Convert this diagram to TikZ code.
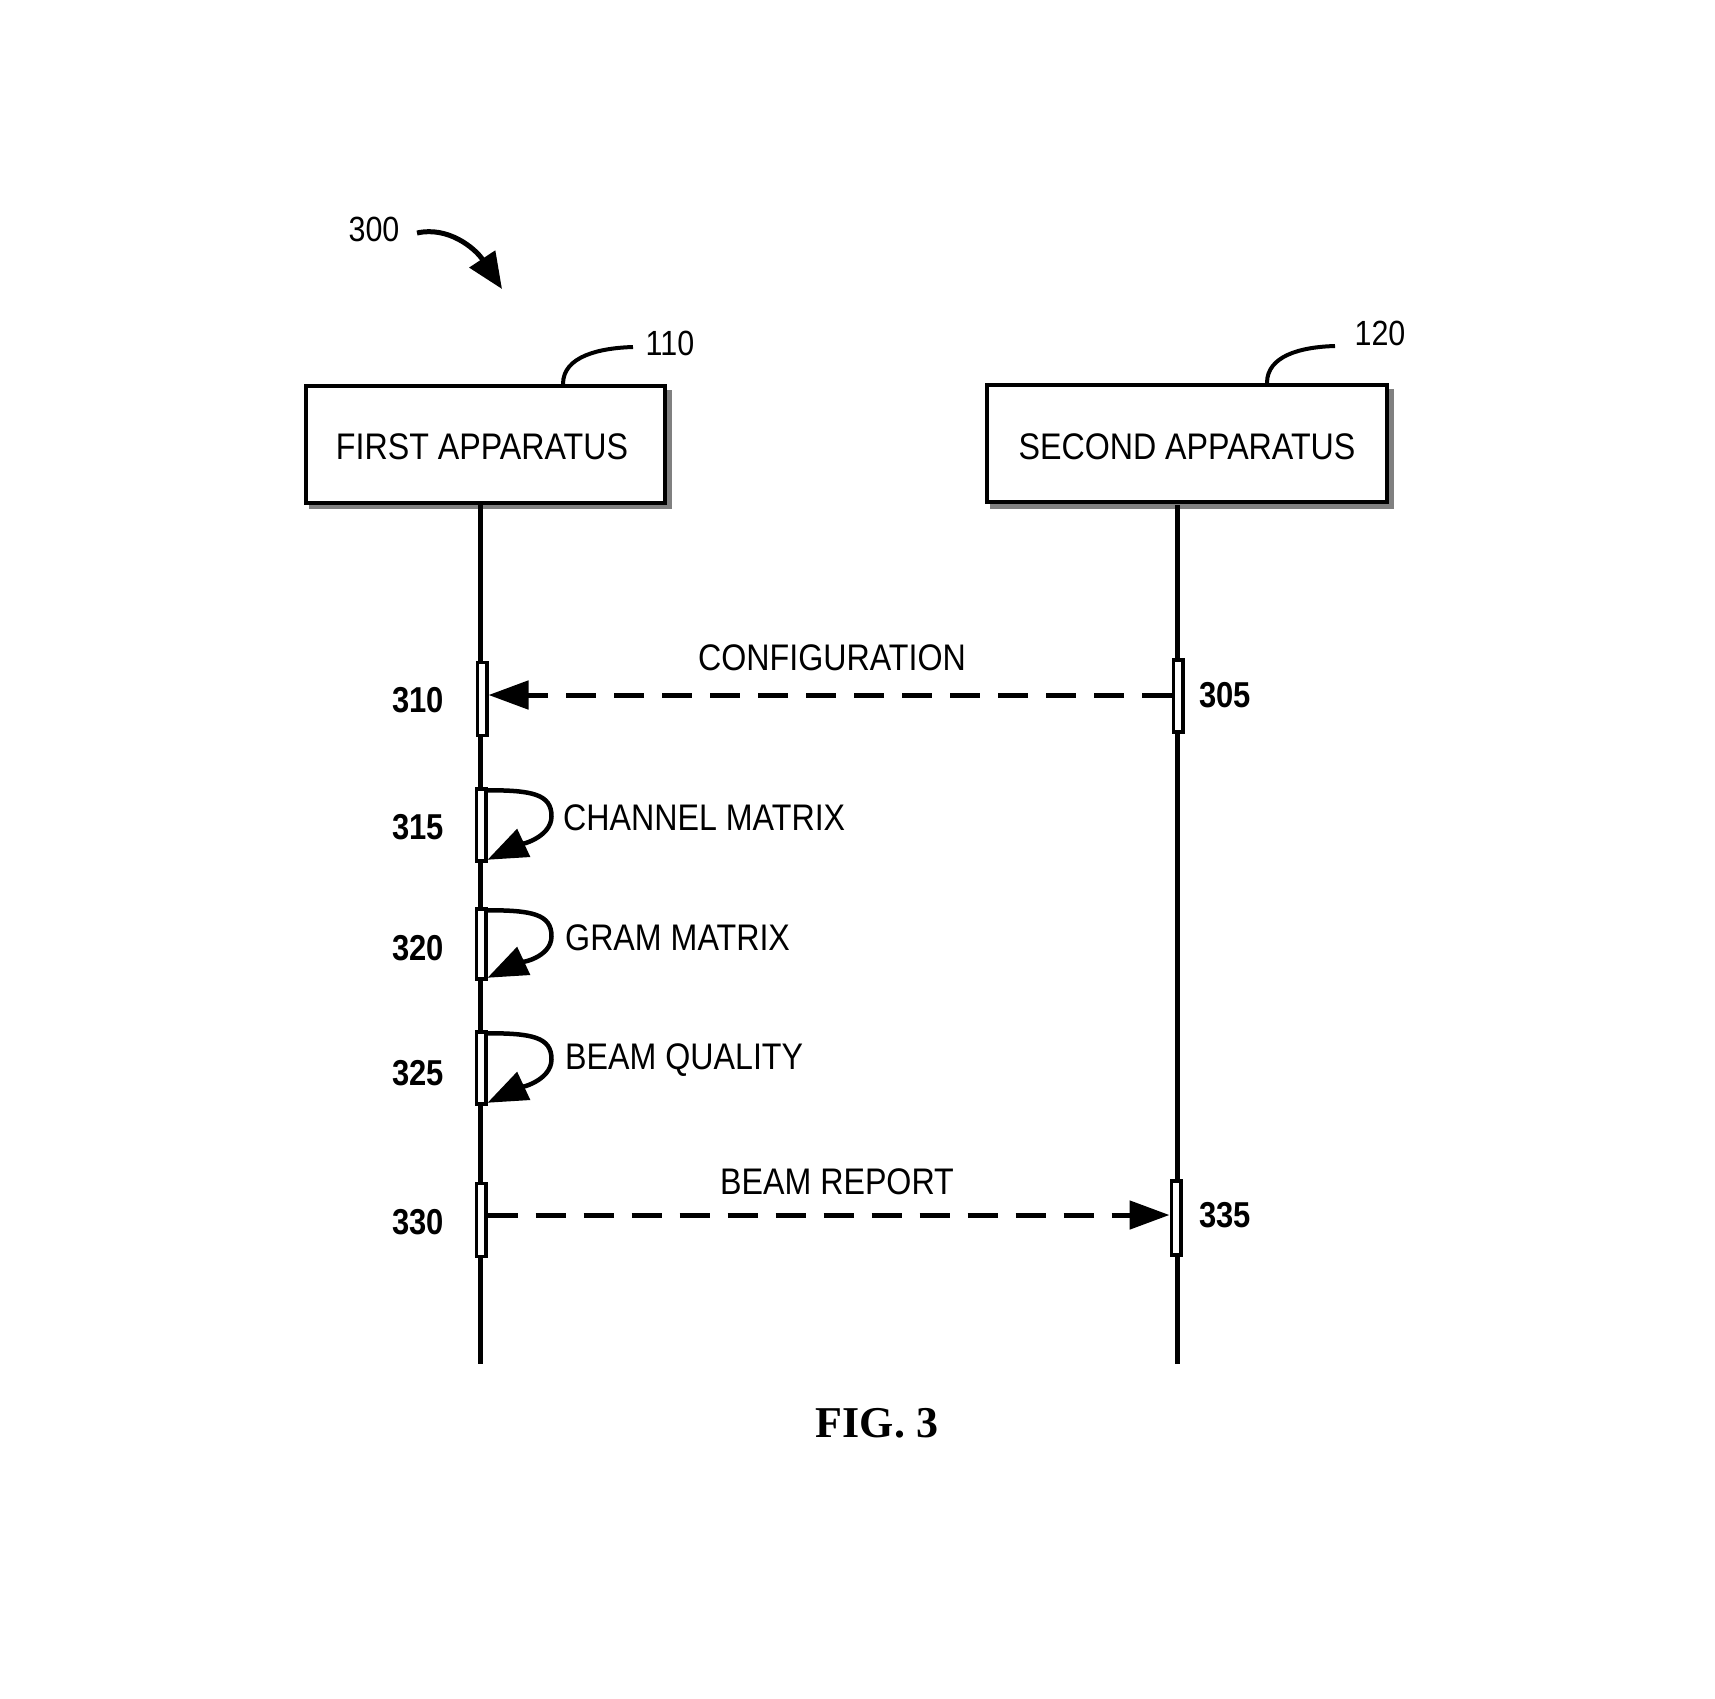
\documentclass[tikz,border=0pt]{standalone}
\usepackage{fontspec}
\setmainfont{Liberation Serif}
\newfontfamily\nar[FakeStretch=0.87]{Liberation Sans}
\newfontfamily\narnum[FakeStretch=0.86]{Liberation Sans}
\usetikzlibrary{arrows.meta,calc}
\tikzset{
  apparatus/.style={draw,line width=4pt,fill=white,minimum width=#1,minimum height=117pt,inner sep=0pt,
    font=\nar\fontsize{37}{40}\selectfont},
  shadowbox/.style={fill=black!50,draw=none},
  lifeline/.style={line width=5pt},
  actbar/.style={draw,line width=3.5pt,fill=white,minimum width=9.5pt,minimum height=#1,inner sep=0pt},
  msg/.style={line width=5pt,dash pattern=on 30pt off 18pt,-{Triangle[length=40pt,width=28pt]}},
  selfloop/.style={line width=4.5pt,-{Triangle[length=40pt,width=30pt]}},
  lbl/.style={font=\nar\fontsize{37}{40}\selectfont,inner sep=0pt},
  num/.style={font=\narnum\bfseries\fontsize{36}{40}\selectfont,inner sep=0pt},
  ref/.style={font=\nar\fontsize{35}{40}\selectfont,inner sep=0pt},
  leader/.style={line width=4pt},
}
\begin{document}
\begin{tikzpicture}[x=1pt,y=-1pt]
\useasboundingbox (0,0) rectangle (1715,1698);
% shadows
\fill[shadowbox] (309,390) rectangle (672,509);
\fill[shadowbox] (990,389) rectangle (1394,509);
% boxes
\node[apparatus=359pt] (first) at (485.5,444) {};
\node[apparatus=400pt] (second) at (1187,443.5) {};
\node[lbl] (firstt) at (482,447) {FIRST APPARATUS};
\node[lbl] (secondt) at (1187,447) {SECOND APPARATUS};
% lifelines
\coordinate (l1top) at (480,505);
\coordinate (l1bot) at (480,1364);
\coordinate (l2top) at (1177,505);
\coordinate (l2bot) at (1177,1364);
\draw[lifeline] (l1top) -- (l1bot);
\draw[lifeline] (l2top) -- (l2bot);
% activation bars
\node[actbar=73pt] (b310) at (482,699) {};
\node[actbar=72pt] (b305) at (1178,696) {};
\node[actbar=72pt] (b315) at (481,825) {};
\node[actbar=70pt] (b320) at (481,944) {};
\node[actbar=72pt] (b325) at (481,1068) {};
\node[actbar=73pt] (b330) at (481,1220) {};
\node[actbar=74pt] (b335) at (1176,1218) {};
% messages
\draw[msg] (b305.west |- 0,695) -- (b310.east |- 0,695);
\draw[msg] (b330.east |- 0,1215) -- (b335.west |- 0,1215);
\node[lbl] (cfg) at (832,658) {CONFIGURATION};
\node[lbl] (brep) at (837,1182) {BEAM REPORT};
% self loops
\foreach \b in {b315,b320,b325}{
  \draw[selfloop] ($(\b.north east)+(0,3)$) .. controls +(45,0) and +(0,-22) .. ++(64,26)
     .. controls +(0,22) and +(30,-14) .. ($(\b.south east)+(0,-3)$);
}
\node[lbl,anchor=west] (cm) at (563,818) {CHANNEL MATRIX};
\node[lbl,anchor=west] (gm) at (565,938) {GRAM MATRIX};
\node[lbl,anchor=west] (bq) at (565,1060) {BEAM QUALITY};
% step numbers
\node[num] (n310) at (418,700) {310};
\node[num] (n315) at (418,827) {315};
\node[num] (n320) at (418,948) {320};
\node[num] (n325) at (418,1073) {325};
\node[num] (n330) at (418,1222) {330};
\node[num] (n305) at (1225,695) {305};
\node[num] (n335) at (1225,1215) {335};
% reference numerals
\node[ref] (r300) at (374,229) {300};
\draw[line width=5pt,-{Triangle[length=36pt,width=30pt]}] (417,233) .. controls (448,226) and (475,248) .. (502,289);
\node[ref] (r110) at (670,343) {110};
\node[ref] (r120) at (1380,333) {120};
\draw[leader] (563,384) .. controls (563,356) and (600,348) .. (633,347);
\draw[leader] (1267,383) .. controls (1267,356) and (1300,347) .. (1335,346);
% caption
\node[font=\bfseries\fontsize{44}{48}\selectfont,inner sep=0pt] (cap) at (877,1423) {FIG. 3};
\end{tikzpicture}
\end{document}
